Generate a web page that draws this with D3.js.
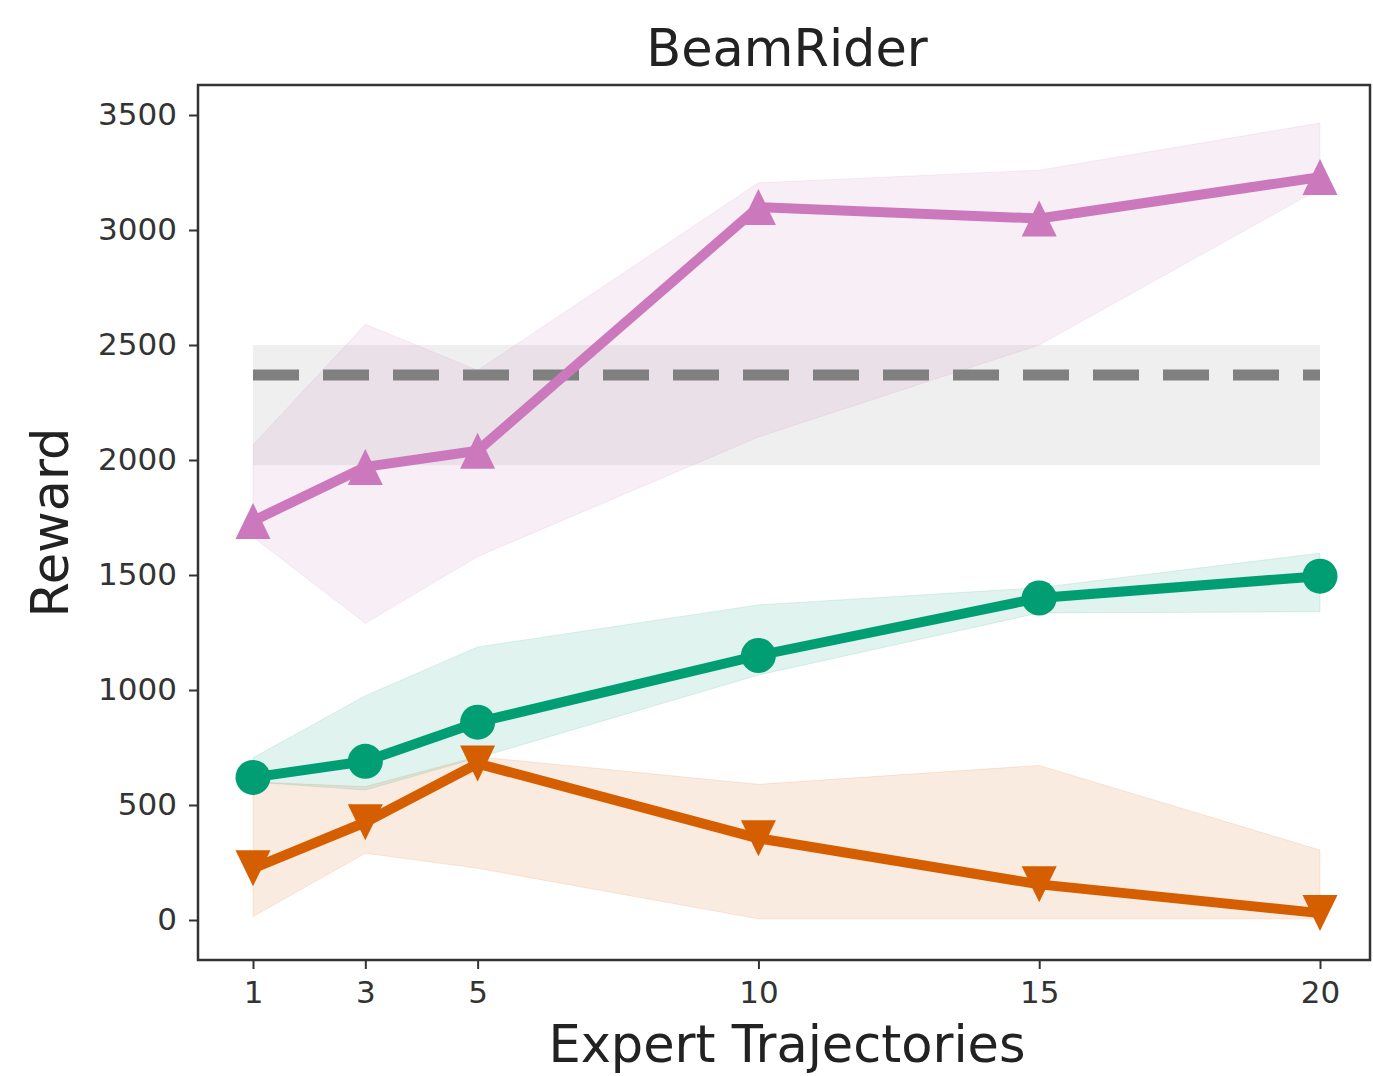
<!DOCTYPE html>
<html>
<head>
<meta charset="utf-8">
<script src="https://cdn.jsdelivr.net/npm/d3@7"></script>
<style>
  body { margin: 0; background: #fff; }
  svg  { display: block; font-family: "DejaVu Sans", sans-serif; }
  .tick text { fill: #333; font-size: 31px; font-family: "DejaVu Sans", sans-serif; }
  .tick line { stroke: #333; stroke-width: 2; }
  .axis path { display: none; }
</style>
</head>
<body>
<script>
// Values
var trajectories = [1, 3, 5, 10, 15, 20]
var xTicks       = [1, 3, 5, 10, 15, 20]
var yTicks       = [0, 500, 1000, 1500, 2000, 2500, 3000, 3500]

var bcoMean  = [1735, 1970, 2040, 3100, 3050, 3230] // pink, triangle up
var bcoLow   = [1665, 1290, 1580, 2100, 2500, 3180]
var bcoHigh  = [2065, 2590, 2390, 3205, 3260, 3465]

var gailMean = [620, 690, 860, 1150, 1400, 1495]    // green, circle
var gailLow  = [600, 565, 705, 1065, 1335, 1340]
var gailHigh = [705, 975, 1187, 1370, 1445, 1595]

var bcMean   = [225, 425, 680, 355, 155, 30]        // orange, triangle down
var bcLow    = [15, 290, 225, 5, 5, 5]
var bcHigh   = [600, 580, 710, 590, 672, 304]

var expertMean = 2370 // dashed demonstrator line
var expertLow  = 1978
var expertHigh = 2500

var series = [
  { name: "BC",   mean: bcMean,   low: bcLow,   high: bcHigh,   colour: "#D55E00", marker: "down",   alpha: 0.12 },
  { name: "GAIL", mean: gailMean, low: gailLow, high: gailHigh, colour: "#029E73", marker: "circle", alpha: 0.12 },
  { name: "BCO",  mean: bcoMean,  low: bcoLow,  high: bcoHigh,  colour: "#CC78BC", marker: "up",     alpha: 0.13 }
]

// Note: "top" is taken by window.top, so margins get their own names
var W       = 1373,
    H       = 1076,
    mLeft   = 198,
    mTop    = 85,
    width   = 1172,
    height  = 875

var svg = d3.select("body").append("svg")
            .attr("width", W)
            .attr("height", H)
var inner = svg.append("g")
               .attr("transform", "translate(" + mLeft + "," + mTop + ")")

// Scales (data 1..20 sits inside the frame with matplotlib-like margins)
var xScale = d3.scaleLinear().domain([1, 20]).range([55, 1122])
var yScale = d3.scaleLinear().domain([0, 3500]).range([835, 30])

// Expert band
inner.append("rect")
     .attr("x", xScale(1))
     .attr("width", xScale(20) - xScale(1))
     .attr("y", yScale(expertHigh))
     .attr("height", yScale(expertLow) - yScale(expertHigh))
     .style("fill", "#949494")
     .style("fill-opacity", 0.15)

// Shaded bands
var area = d3.area()
             .x(function (d) { return xScale(d.x) })
             .y0(function (d) { return yScale(d.lo) })
             .y1(function (d) { return yScale(d.hi) })
series.forEach(function (s) {
  s.points = trajectories.map(function (x, i) {
    return { x: x, y: s.mean[i], lo: s.low[i], hi: s.high[i] }
  })
  inner.append("path")
       .datum(s.points)
       .attr("d", area)
       .style("fill", s.colour)
       .style("fill-opacity", s.alpha)
       .style("stroke", s.colour)
       .style("stroke-opacity", s.alpha)
})

// Dashed expert mean
inner.append("line")
     .attr("x1", xScale(1))
     .attr("x2", xScale(20))
     .attr("y1", yScale(expertMean))
     .attr("y2", yScale(expertMean))
     .style("stroke", "#808080")
     .style("stroke-width", 11)
     .style("stroke-dasharray", "46,24")

// Marker shapes, centred on their bounding box like matplotlib
var markerPath = function (type) {
  var p = d3.path(), w = 17.5, h = 18
  if (type === "up") {
    p.moveTo(0, -h); p.lineTo(w, h); p.lineTo(-w, h); p.closePath()
  } else if (type === "down") {
    p.moveTo(0, h); p.lineTo(w, -h); p.lineTo(-w, -h); p.closePath()
  } else {
    p.arc(0, 0, 17.5, 0, 2 * Math.PI)
  }
  return p.toString()
}

// Mean lines + markers
var line = d3.line()
             .x(function (d) { return xScale(d.x) })
             .y(function (d) { return yScale(d.y) })
series.forEach(function (s) {
  var g = inner.append("g").attr("class", "series")
  g.append("path")
   .datum(s.points)
   .attr("d", line)
   .style("fill", "none")
   .style("stroke", s.colour)
   .style("stroke-width", 10)
   .style("stroke-linejoin", "round")
  g.selectAll(".dot")
   .data(s.points)
   .enter()
     .append("path")
       .attr("class", "dot")
       .attr("transform", function (d) { return "translate(" + xScale(d.x) + "," + yScale(d.y) + ")" })
       .attr("d", markerPath(s.marker))
       .style("fill", s.colour)
})

// Frame
inner.append("rect")
     .attr("width", width)
     .attr("height", height)
     .style("fill", "none")
     .style("stroke", "#333")
     .style("stroke-width", 2.5)

// Axes
var xAxis = d3.axisBottom(xScale).tickValues(xTicks).tickSize(9).tickPadding(12)
var yAxis = d3.axisLeft(yScale).tickValues(yTicks).tickSize(9).tickPadding(12)
                .tickFormat(d3.format("d"))
inner.append("g")
     .attr("class", "axis axis-x")
     .attr("transform", "translate(0," + height + ")")
     .call(xAxis)
inner.append("g")
     .attr("class", "axis axis-y")
     .call(yAxis)

// Labels
svg.append("text")
   .attr("x", mLeft + width / 2 + 3)
   .attr("y", 66)
   .attr("text-anchor", "middle")
   .style("font-size", "51px")
   .style("fill", "#222")
   .text("BeamRider")
svg.append("text")
   .attr("x", mLeft + width / 2 + 3)
   .attr("y", 1062)
   .attr("text-anchor", "middle")
   .style("font-size", "51px")
   .style("fill", "#222")
   .text("Expert Trajectories")
svg.append("text")
   .attr("transform", "translate(68," + (mTop + height / 2) + ") rotate(-90)")
   .attr("text-anchor", "middle")
   .style("font-size", "51px")
   .style("fill", "#222")
   .text("Reward")
</script>
</body>
</html>
